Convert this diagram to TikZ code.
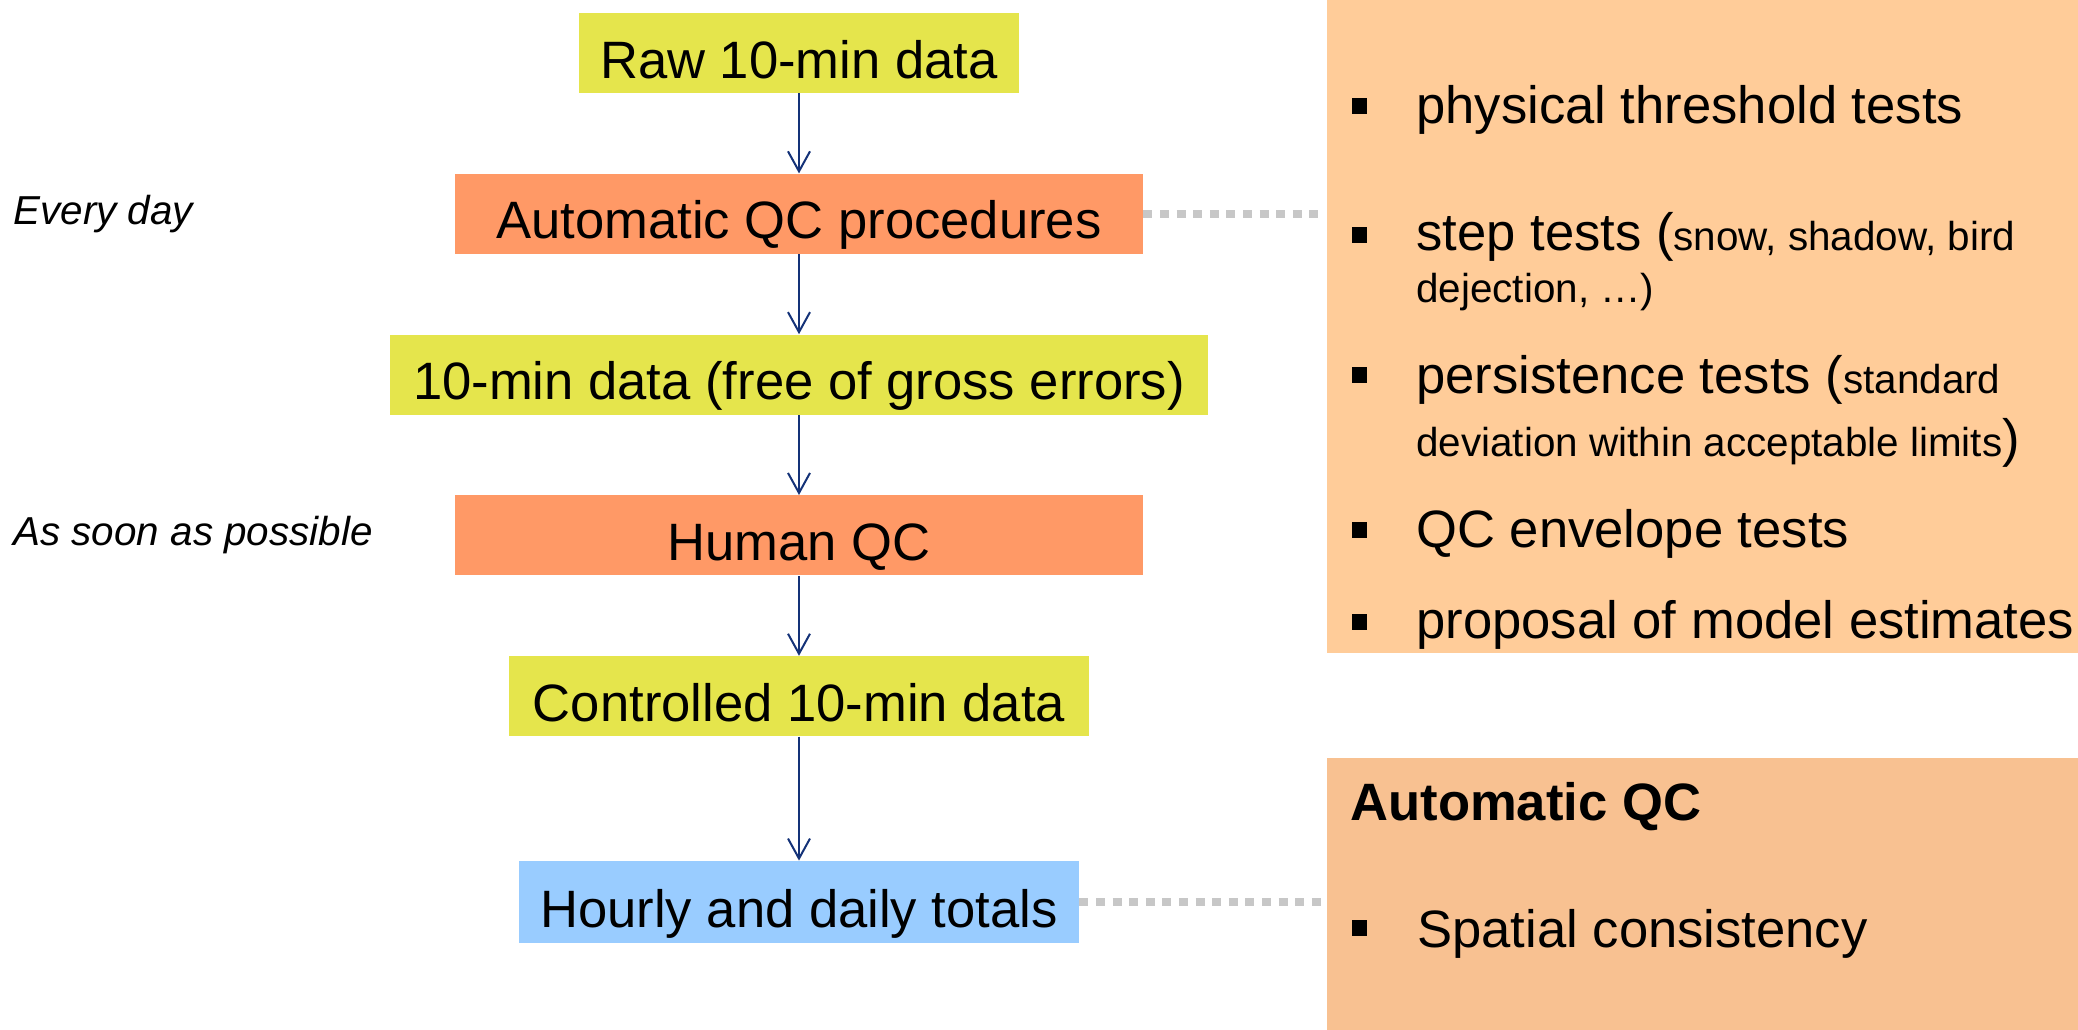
\documentclass[tikz,border=0pt]{standalone}
\usepackage{fontspec}
\setmainfont{Liberation Sans}
\usepackage{tikz}
\usetikzlibrary{positioning,arrows.meta}
\newcommand\bigtxt{\fontsize{26.3pt}{31pt}\selectfont}
\newcommand\smalltxt{\fontsize{20.2pt}{24pt}\selectfont}
\definecolor{qcyellow}{RGB}{229,229,76}
\definecolor{qcorange}{RGB}{255,153,102}
\definecolor{qcblue}{RGB}{153,204,255}
\definecolor{qcnavy}{RGB}{20,50,120}
\definecolor{testbg}{RGB}{255,204,153}
\definecolor{spatbg}{RGB}{248,193,145}
\tikzset{
  flowbox/.style   = {shape=rectangle, minimum height=40pt, inner sep=0pt,
                      text height=25pt, text depth=0pt, font=\bigtxt},
  datanode/.style  = {flowbox, fill=qcyellow},
  qcnode/.style    = {flowbox, fill=qcorange},
  totalnode/.style = {flowbox, fill=qcblue},
  panel/.style     = {shape=rectangle, inner sep=0pt, anchor=north west},
  itemtext/.style  = {anchor=base west, inner sep=0pt, font=\bigtxt},
  sqbullet/.style  = {shape=rectangle, fill=black, minimum size=7.8pt, inner sep=0pt},
  when/.style      = {anchor=west, inner sep=0pt, font=\smalltxt\itshape},
  flow/.style      = {draw=qcnavy, line width=1pt,
                      -{Straight Barb[length=10pt,width=11pt]}},
  link/.style      = {draw=black!22, line width=4pt,
                      dash pattern=on 4.5pt off 3.8pt, shorten >=2.5pt}
}

\begin{document}
\begin{tikzpicture}[x=1pt,y=1pt]
  \useasboundingbox (0,0) rectangle (1039,-514.5);

  % processing chain
  \node[datanode, minimum width=220pt] (raw) at (399.5,-26.5) {Raw 10-min data};
  \node[qcnode, minimum width=344pt, below=40pt of raw] (autoqc) {Automatic QC procedures};
  \node[datanode, minimum width=409pt, below=40pt of autoqc] (clean) {10-min data (free of gross errors)};
  \node[qcnode, minimum width=344pt, below=40pt of clean] (human) {Human QC};
  \node[datanode, minimum width=290pt, below=40pt of human] (ctrl) {Controlled 10-min data};
  \node[totalnode, minimum width=280pt, minimum height=41pt, below=62pt of ctrl] (totals) {Hourly and daily totals};

  \draw[flow] (raw) -- (autoqc);
  \draw[flow] (autoqc) -- (clean);
  \draw[flow] (clean) -- (human);
  \draw[flow] (human) -- (ctrl);
  \draw[flow] (ctrl) -- (totals);

  % timing
  \coordinate (lmargin) at (6.5,0);
  \node[when] (daily) at (lmargin |- autoqc) {Every day};
  \node[when] (asap) at (lmargin |- human) {As soon as possible};

  % test panels
  \node[panel, fill=testbg, minimum width=380pt, minimum height=336.5pt] (tests) at (663.5,10) {};
  \node[panel, fill=spatbg, minimum width=380pt, minimum height=141pt] (spatial) at (663.5,-379) {};

  \draw[link] (autoqc.east) -- (autoqc -| tests.west);
  \draw[link] (totals.east) -- (totals -| spatial.west);

  \node[sqbullet] (b1) at (679.8,-53) {};
  \node[itemtext] (t1) at (708,-61.5) {physical threshold tests};
  \node[sqbullet] (b2) at (679.8,-117.5) {};
  \node[itemtext] (t2) at (708,-125) {step tests (\smalltxt snow, shadow, bird};
  \node[itemtext] (t2b) at (708,-151) {\smalltxt dejection, …)};
  \node[sqbullet] (b3) at (679.8,-187.5) {};
  \node[itemtext] (t3) at (708,-196.5) {persistence tests (\smalltxt standard};
  \node[itemtext] (t3b) at (708,-228) {{\smalltxt deviation within acceptable limits})};
  \node[sqbullet] (b4) at (679.8,-265) {};
  \node[itemtext] (t4) at (708,-273.5) {QC envelope tests};
  \node[sqbullet] (b5) at (679.8,-311) {};
  \node[itemtext] (t5) at (708,-319) {proposal of model estimates};

  \node[itemtext, font=\bigtxt\bfseries] (head) at (675,-410) {Automatic QC};
  \node[sqbullet] (b6) at (679.8,-464) {};
  \node[itemtext] (t6) at (708.5,-473.5) {Spatial consistency};
\end{tikzpicture}
\end{document}
